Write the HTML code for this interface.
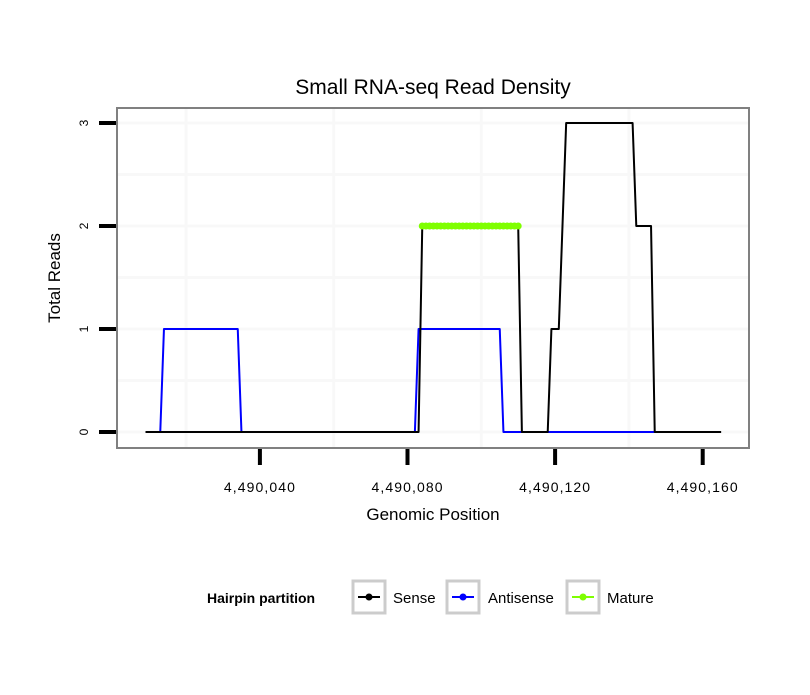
<!DOCTYPE html>
<html><head><meta charset="utf-8"><style>
body{margin:0;background:#fff;}
svg text{font-family:"Liberation Sans",sans-serif;}
</style></head><body>
<svg id="chart" width="810" height="690" xmlns="http://www.w3.org/2000/svg">
<rect width="810" height="690" fill="#fff"/>
<text x="433" y="94" font-size="21" text-anchor="middle">Small RNA-seq Read Density</text>
<g id="grid"></g>
<g id="series"></g>
<rect x="117" y="108" width="632" height="340" fill="none" stroke="#808080" stroke-width="2"/>
<g id="axes"></g>
<text x="433" y="520" font-size="17" text-anchor="middle">Genomic Position</text>
<text transform="translate(60,278) rotate(-90)" font-size="17" text-anchor="middle">Total Reads</text>
<g>
<text x="207" y="603" font-size="14" font-weight="bold">Hairpin partition</text>
<g>
<rect x="353" y="581" width="32" height="32" fill="#fff" stroke="#ccc" stroke-width="3"/>
<line x1="358" y1="597" x2="380" y2="597" stroke="#000" stroke-width="2"/><circle cx="369" cy="597" r="3.5" fill="#000"/>
<text x="393" y="603" font-size="15">Sense</text></g>
<g>
<rect x="447" y="581" width="32" height="32" fill="#fff" stroke="#ccc" stroke-width="3"/>
<line x1="452" y1="597" x2="474" y2="597" stroke="#00f" stroke-width="2"/><circle cx="463" cy="597" r="3.5" fill="#00f"/>
<text x="488" y="603" font-size="15">Antisense</text></g>
<g>
<rect x="567" y="581" width="32" height="32" fill="#fff" stroke="#ccc" stroke-width="3"/>
<line x1="572" y1="597" x2="594" y2="597" stroke="#7fff00" stroke-width="2"/><circle cx="583" cy="597" r="3.5" fill="#7fff00"/>
<text x="607" y="603" font-size="15">Mature</text></g>
</g>
</svg>
<script>
const BASE = 4490000;
const senseX = [9,83,84,110,111,118,119,121,123,141,142,146,147,165];
const senseY = [0,0,2,2,0,0,1,1,3,3,2,2,0,0];
const antiX = [9,13,14,34,35,82,83,105,106,147];
const antiY = [0,0,1,1,0,0,1,1,0,0];
const matureX = [84,85,86,87,88,89,90,91,92,93,94,95,96,97,98,99,100,101,102,103,104,105,106,107,108,109,110];
const matureY = [2,2,2,2,2,2,2,2,2,2,2,2,2,2,2,2,2,2,2,2,2,2,2,2,2,2,2];
const xTicks = [4490040,4490080,4490120,4490160];
const xTickLabels = ["4,490,040","4,490,080","4,490,120","4,490,160"];
const yTicks = [0,1,2,3];
const xGrid = [4490020,4490060,4490100,4490140];
const yGrid = [0.5,1.5,2.5];

const NS="http://www.w3.org/2000/svg";
function xs(v){return 112.3+(v-BASE)*3.69;}
function xsPos(p){return 112.3+p*3.69;}
function ys(v){return 432-v*103;}
function mk(tag,attrs,parent){const e=document.createElementNS(NS,tag);for(const k in attrs)e.setAttribute(k,attrs[k]);parent.appendChild(e);return e;}
const grid=document.getElementById('grid'),axes=document.getElementById('axes'),series=document.getElementById('series');
xGrid.forEach(g=>{const l=mk('line',{x1:xs(g),x2:xs(g),y1:109,y2:447,stroke:'#f8f8f8','stroke-width':3},grid);

});
yTicks.concat(yGrid).forEach(g=>{const l=mk('line',{x1:118,x2:748,y1:ys(g),y2:ys(g),stroke:'#f8f8f8','stroke-width':3},grid);

});
xTicks.forEach((t,i)=>{const l=mk('line',{x1:xs(t),x2:xs(t),y1:449,y2:465,stroke:'#000','stroke-width':4},axes);


const tx=mk('text',{x:xs(t)-36,y:492,'font-size':14,textLength:71,lengthAdjust:'spacing'},axes);tx.textContent=xTickLabels[i];

});
yTicks.forEach(t=>{const l=mk('line',{x1:99,x2:116,y1:ys(t),y2:ys(t),stroke:'#000','stroke-width':4},axes);


const tx=mk('text',{transform:`translate(88,${ys(t)}) rotate(-90)`,'font-size':12,'text-anchor':'middle'},axes);tx.textContent=String(t);

});
function pts(X,Y){return X.map((p,i)=>xsPos(p)+','+ys(Y[i])).join(' ');}
const a=mk('polyline',{points:pts(antiX,antiY),fill:'none',stroke:'#00f','stroke-width':2,'stroke-linejoin':'round'},series);


const s=mk('polyline',{points:pts(senseX,senseY),fill:'none',stroke:'#000','stroke-width':2,'stroke-linejoin':'round'},series);


const m=mk('polyline',{points:pts(matureX,matureY),fill:'none',stroke:'#7fff00','stroke-width':5,'stroke-linecap':'round'},series);


matureX.forEach((p,i)=>{const c=mk('circle',{cx:xsPos(p),cy:ys(matureY[i]),r:3.5,fill:'#7fff00'},series);

});
</script>
</body></html>
